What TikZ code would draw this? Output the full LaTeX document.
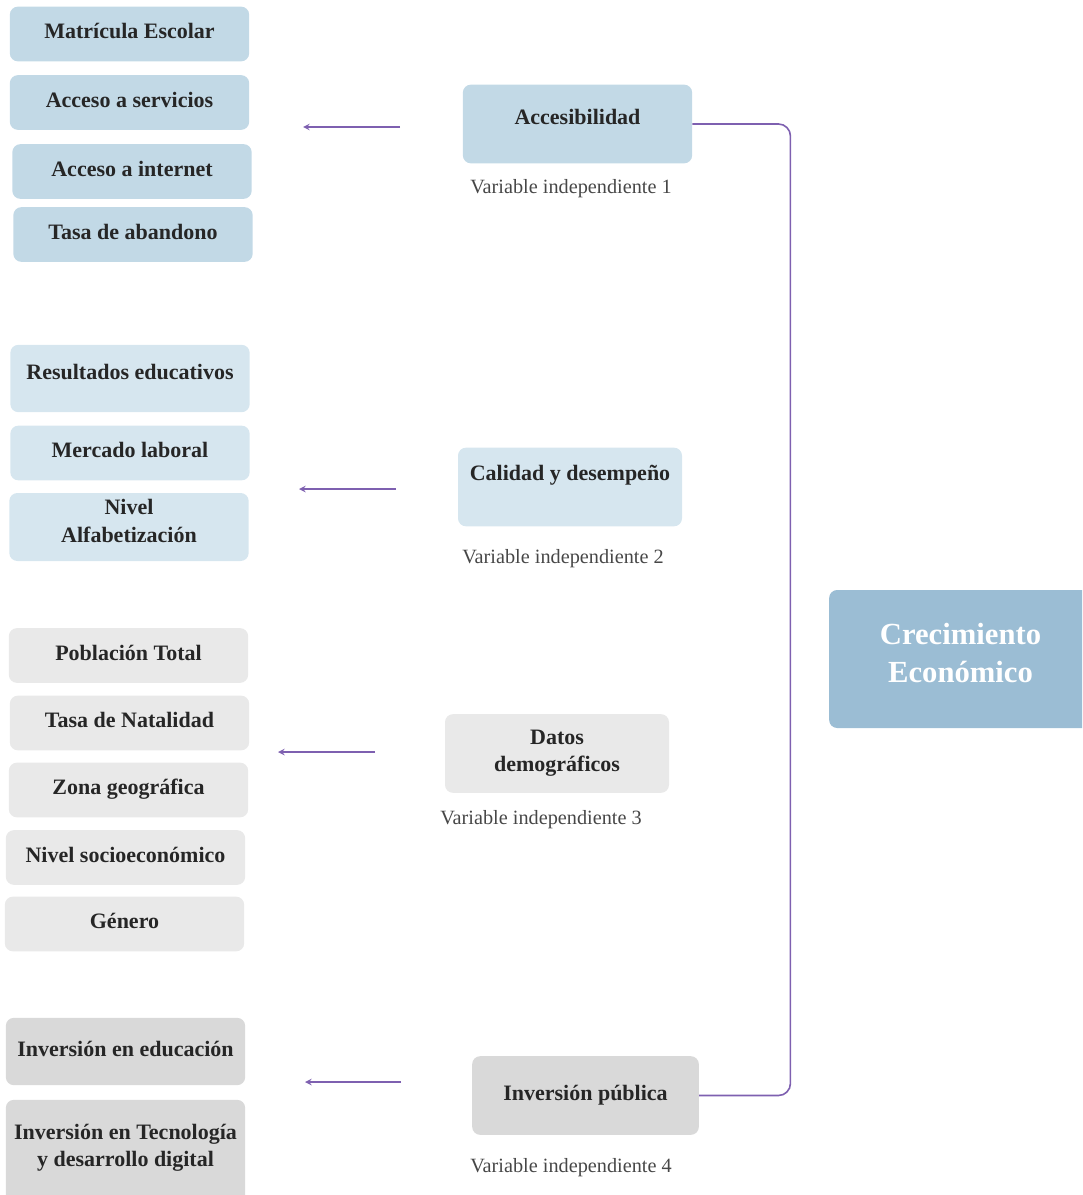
\documentclass[tikz,border=0pt]{standalone}
\usepackage{fontspec}
\setmainfont{Liberation Serif}
\usepackage{tikz}

\definecolor{accblue}{RGB}{194,217,230}
\definecolor{calblue}{RGB}{214,230,239}
\definecolor{demgray}{RGB}{233,233,233}
\definecolor{invgray}{RGB}{217,217,217}
\definecolor{creblue}{RGB}{155,189,212}
\definecolor{linkpurple}{RGB}{126,96,176}
\definecolor{txtgray}{RGB}{38,38,38}

\begin{document}
\begin{tikzpicture}[>=stealth,x=0.75pt,y=-0.75pt,
    box/.style={rounded corners=6pt,inner sep=2pt,align=center,text=txtgray,
      font=\bfseries\fontsize{16.5}{20.5}\selectfont},
    item/.style={box,minimum width=179.5pt,minimum height=41pt,text height=11.5pt,text depth=4.5pt},
    tall/.style={item,minimum height=50.5pt},
    pair/.style={box,minimum width=179.5pt},
    var/.style={box,minimum width=170pt,minimum height=59pt},
    varcap/.style={text=txtgray!85,font=\fontsize{15.2}{18}\selectfont},
    link/.style={linkpurple,line width=1.2pt}]
  \clip (0,0) rectangle (1082,1195);

  \node[item,fill=accblue] (mat) at (129.5,34) {Matrícula Escolar};
  \node[item,fill=accblue] (ser) at (129.5,102.5) {Acceso a servicios};
  \node[item,fill=accblue] (int) at (132,171.5) {Acceso a internet};
  \node[item,fill=accblue] (aba) at (133,234.5) {Tasa de abandono};

  \node[tall,fill=calblue,text depth=10pt] (res) at (130,378.5) {Resultados educativos};
  \node[item,fill=calblue] (mer) at (130,453) {Mercado laboral};
  \node[pair,fill=calblue,minimum height=51pt,text depth=9pt] (alf) at (129,527) {Nivel\\Alfabetización};

  \node[item,fill=demgray] (pob) at (128.5,655.5) {Población Total};
  \node[item,fill=demgray] (nat) at (129.5,723) {Tasa de Natalidad};
  \node[item,fill=demgray] (zon) at (128.5,790) {Zona geográfica};
  \node[item,fill=demgray] (soc) at (125.5,857.5) {Nivel socioeconómico};
  \node[item,fill=demgray] (gen) at (124.5,924) {Género};

  \node[tall,fill=invgray] (edu) at (125.5,1051.5) {Inversión en educación};
  \node[pair,fill=invgray,minimum height=79pt,text depth=11pt] (tec) at (125.5,1152.5) {Inversión en Tecnología\\y desarrollo digital};

  \node[var,fill=accblue,minimum width=172pt,text depth=10.5pt] (acc) at (577.5,124) {Accesibilidad};
  \node[var,fill=calblue,minimum width=168pt,text depth=21pt] (cal) at (570,487) {Calidad y desempeño};
  \node[var,fill=demgray,minimum width=168pt] (dem) at (557,753.5) {Datos\\demográficos};
  \node[var,fill=invgray] (pub) at (585.5,1095.5) {Inversión pública};

  \node[varcap] (v1) at (571,189) {Variable independiente 1};
  \node[varcap] (v2) at (563,559) {Variable independiente 2};
  \node[varcap] (v3) at (541,820) {Variable independiente 3};
  \node[varcap] (v4) at (571,1168) {Variable independiente 4};

  \node[box,fill=creblue,text=white,font=\bfseries\fontsize{23}{28.5}\selectfont,text depth=9pt,
    minimum width=197pt,minimum height=103.5pt] (cre) at (960.5,659) {Crecimiento\\Económico};

  \foreach \i/\y/\xs/\xe in {1/127/400/303,2/489/396/299,3/752/375/278,4/1082/401/305}{
    \coordinate (s\i) at (\xs,\y);
    \coordinate (e\i) at (\xe,\y);
    \draw[link,->] (s\i) -- (e\i);
  }
  \draw[link,rounded corners=9pt] (acc.east) -- ++(98,0) |- (pub.east);
\end{tikzpicture}
\end{document}
